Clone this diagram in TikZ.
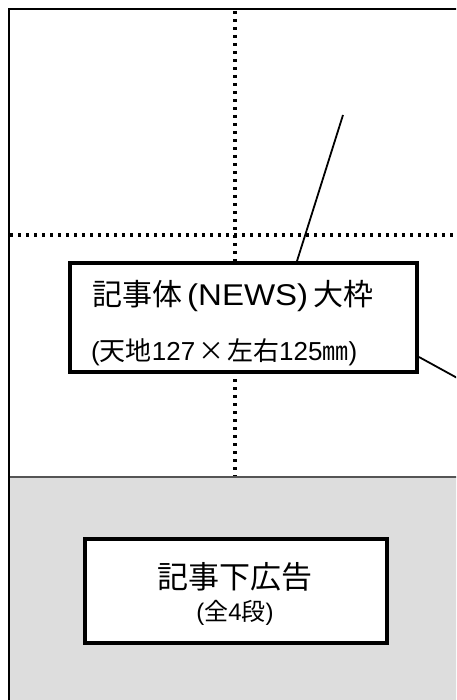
\documentclass[tikz,border=0pt]{standalone}
\usepackage{fontspec}
\setmainfont{Liberation Sans}
\newfontfamily\cjk{Noto Sans CJK JP}
\newfontfamily\latwide[FakeStretch=1.1]{Liberation Sans}
\tikzset{
  frame/.style={line width=2.5pt},
  dotline/.style={line width=3.2pt, dash pattern=on 3.2pt off 4.8pt},
  labelbox/.style={draw, line width=4pt, fill=white, inner sep=0pt},
  leader/.style={line width=1.8pt},
  txt/.style={inner sep=0pt, anchor=base west}
}
\definecolor{adgray}{HTML}{DDDDDD}
\definecolor{edgegray}{HTML}{555555}
\begin{document}
\begin{tikzpicture}[x=1pt,y=-1pt]
\useasboundingbox (0,0) rectangle (456,700);
\clip (0,0) rectangle (456,700);
% gray ad area
\fill[adgray] (9,477) rectangle (470,720);
\draw[edgegray, line width=1.2pt] (9,477) -- (470,477);
% outer frame
\draw[frame] (9,720) -- (9,9) -- (470,9);
% dotted guides
\draw[dotline] (10,235) -- (470,235);
\draw[dotline] (235,11) -- (235,476);
% boxes
\node[labelbox, minimum width=347pt, minimum height=109pt] (news) at (243.5,317.5) {};
\node[labelbox, minimum width=302pt, minimum height=104pt] (ad) at (235.8,591) {};
% texts
\node[txt] (t1) at (92,305) {{\fontsize{30}{32}\selectfont\cjk 記事体}\hspace{5pt}{\fontsize{30}{32}\selectfont\latwide (NEWS)}\hspace{5pt}{\fontsize{30}{32}\selectfont\cjk 大枠}};
\node[txt] (t2) at (91,360) {\fontsize{26}{28}\selectfont ({\cjk 天地}127\hspace{3pt}{\cjk ×}\hspace{3pt}{\cjk 左右}125{\cjk ㎜})};
\node[inner sep=0pt, anchor=base] (t3) at (234.5,588) {\fontsize{31}{32}\selectfont\cjk 記事下広告};
\node[inner sep=0pt, anchor=base] (t4) at (235,620) {\fontsize{24}{26}\selectfont ({\cjk 全}4{\cjk 段})};
% leaders
\coordinate (c1) at (343,115);
\coordinate (c2) at (470,385);
\draw[leader] (c1) -- ([xshift=53.5pt]news.north);
\draw[leader] ([yshift=-39.5pt]news.east) -- (c2);
\end{tikzpicture}
\end{document}
